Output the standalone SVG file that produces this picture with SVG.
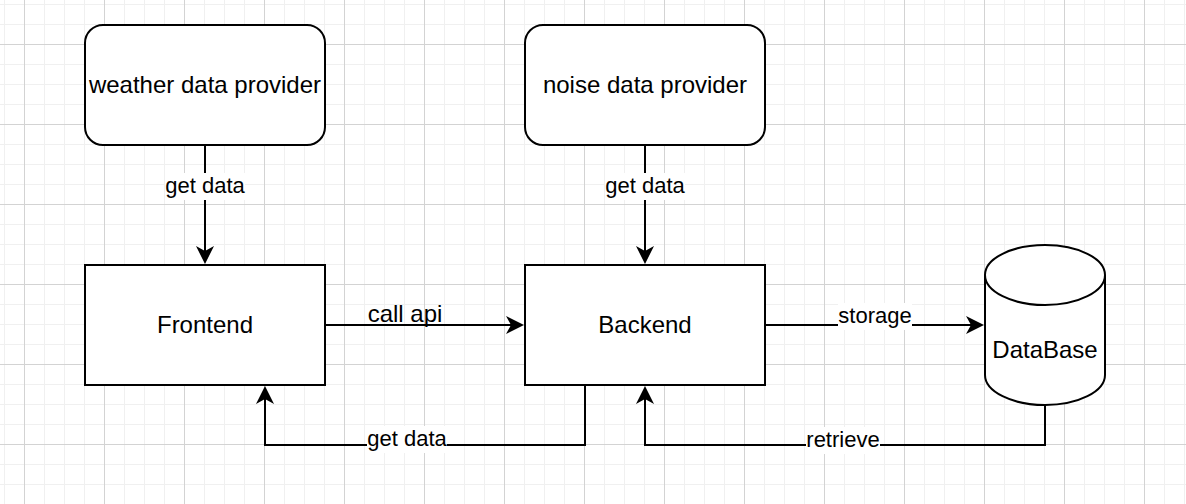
<svg xmlns="http://www.w3.org/2000/svg" width="1186" height="504" viewBox="0 0 1186 504">
  <style>
    .node { fill: #ffffff; stroke: #000000; stroke-width: 2; }
    .lbl { font-family: "Liberation Sans", Helvetica, Arial, sans-serif; font-size: 24px; fill: #000000; text-anchor: middle; }
    .elbl { font-family: "Liberation Sans", Helvetica, Arial, sans-serif; font-size: 22px; fill: #000000; text-anchor: middle; }
    .edge { fill: none; stroke: #000000; stroke-width: 2; marker-end: url(#arrow); }
    .lblbg { fill: #ffffff; }
  </style>
  <defs>
    <pattern id="minor" width="20" height="20" patternUnits="userSpaceOnUse">
      <rect x="4" y="0" width="1" height="20" fill="#f0f0f0"/>
      <rect x="0" y="4" width="20" height="1" fill="#f0f0f0"/>
    </pattern>
    <pattern id="major" width="80" height="80" patternUnits="userSpaceOnUse">
      <rect x="24" y="0" width="1" height="80" fill="#d3d3d3"/>
      <rect x="0" y="44" width="80" height="1" fill="#d3d3d3"/>
    </pattern>
    <marker id="arrow" viewBox="-18 -9 18 18" refX="-13" refY="0" markerWidth="18" markerHeight="18" markerUnits="userSpaceOnUse" orient="auto">
      <path d="M0,0 L-18,-9 L-13,0 L-18,9 Z" fill="#000000"/>
    </marker>
  </defs>

  <rect x="0" y="0" width="1186" height="504" fill="#ffffff"/>
  <rect x="0" y="0" width="1186" height="504" fill="url(#minor)"/>
  <rect x="0" y="0" width="1186" height="504" fill="url(#major)"/>

  <g id="connectors">
    <g id="edge-weather-frontend">
      <path class="edge" d="M205,145 V251"/>
      <rect class="lblbg" x="165" y="173" width="80" height="27"/>
      <text class="elbl" x="205" y="193">get data</text>
    </g>
    <g id="edge-noise-backend">
      <path class="edge" d="M645,145 V251"/>
      <rect class="lblbg" x="605" y="173" width="80" height="27"/>
      <text class="elbl" x="645" y="193">get data</text>
    </g>
    <g id="edge-frontend-backend">
      <path class="edge" d="M325,325 H511"/>
      <text class="lbl" x="405" y="322">call api</text>
    </g>
    <g id="edge-backend-frontend">
      <path class="edge" d="M585,385 V445 H265 V399"/>
      <rect class="lblbg" x="367" y="426" width="80" height="27"/>
      <text class="elbl" x="407" y="446">get data</text>
    </g>
    <g id="edge-backend-db">
      <path class="edge" d="M765,325 H971"/>
      <rect class="lblbg" x="838" y="303" width="74" height="27"/>
      <text class="elbl" x="875" y="323">storage</text>
    </g>
    <g id="edge-db-backend">
      <path class="edge" d="M1045,405 V445 H645 V399"/>
      <rect class="lblbg" x="806" y="427" width="74" height="27"/>
      <text class="elbl" x="843" y="447">retrieve</text>
    </g>
  </g>

  <g id="weather-provider">
    <rect class="node" x="85" y="25" width="240" height="120" rx="18" ry="18"/>
    <text class="lbl" x="205" y="93">weather data provider</text>
  </g>
  <g id="noise-provider">
    <rect class="node" x="525" y="25" width="240" height="120" rx="18" ry="18"/>
    <text class="lbl" x="645" y="93">noise data provider</text>
  </g>
  <g id="frontend">
    <rect class="node" x="85" y="265" width="240" height="120"/>
    <text class="lbl" x="205" y="333">Frontend</text>
  </g>
  <g id="backend">
    <rect class="node" x="525" y="265" width="240" height="120"/>
    <text class="lbl" x="645" y="333">Backend</text>
  </g>
  <g id="database">
    <path class="node" d="M985,275 A60,30 0 0 1 1105,275 L1105,375 A60,30 0 0 1 985,375 Z"/>
    <path class="node" fill="none" d="M985,275 A60,30 0 0 0 1105,275"/>
    <text class="lbl" x="1045" y="358">DataBase</text>
  </g>
</svg>
